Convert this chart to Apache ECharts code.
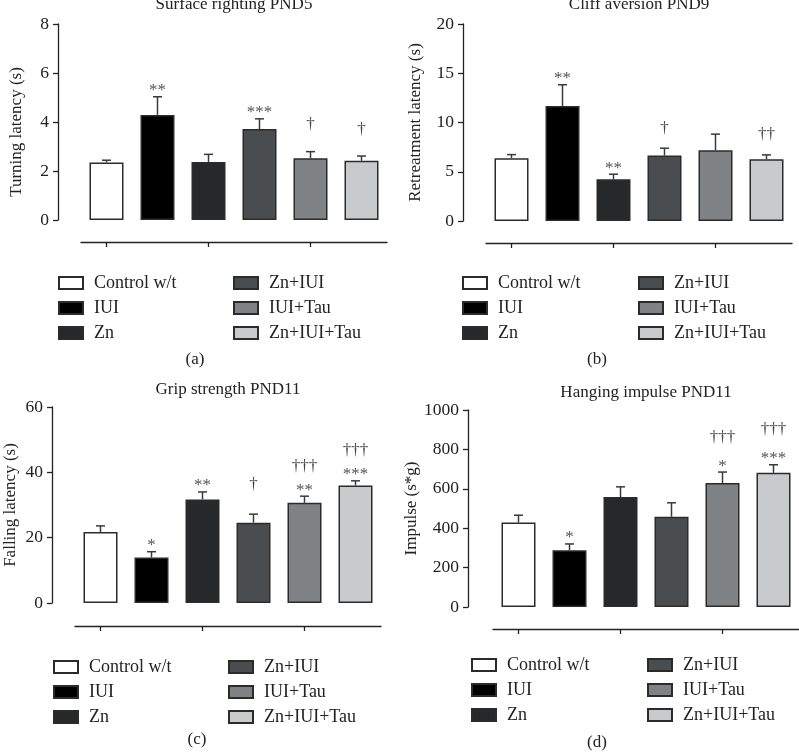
<!DOCTYPE html>
<html style="height: 100%">
<head>
<meta charset="utf-8">
<script src="https://cdn.jsdelivr.net/npm/echarts@6/dist/echarts.min.js"></script>
</head>
<body style="height: 100%; margin: 0; background: #fff">
<div id="container" style="width: 799px; height: 752px"></div>
<script type="text/javascript">
var groups = ['Control w/t', 'IUI', 'Zn', 'Zn+IUI', 'IUI+Tau', 'Zn+IUI+Tau'];
var colors = ['#ffffff', '#000000', '#27282a', '#4a4d50', '#808385', '#c9cacb'];

// (a) surface righting
var surfaceMean = [2.35, 4.29, 2.37, 3.71, 2.52, 2.42];
var surfaceErr = [2.44, 5.03, 2.68, 4.13, 2.79, 2.61];
var surfaceStars = ['', '**', '', '***', '', ''];
var surfaceDaggers = ['', '', '', '', '†', '†'];
// (b) cliff aversion
var cliffMean = [6.38, 11.67, 4.24, 6.64, 7.19, 6.27];
var cliffErr = [6.74, 13.83, 4.75, 7.39, 8.82, 6.71];
var cliffStars = ['', '**', '**', '', '', ''];
var cliffDaggers = ['', '', '', '†', '', '††'];
// (c) grip strength
var gripMean = [21.7, 13.9, 31.7, 24.6, 30.7, 36.0];
var gripErr = [23.6, 15.7, 34.0, 27.2, 32.7, 37.4];
var gripStars = ['', '*', '**', '', '**', '***'];
var gripDaggers = ['', '', '', '†', '†††', '†††'];
// (d) hanging impulse
var hangMean = [429, 288, 558, 458, 629, 681];
var hangErr = [466, 320, 610, 529, 685, 722];
var hangStars = ['', '*', '', '', '*', '***'];
var hangDaggers = ['', '', '', '', '†††', '†††'];

var FONT = 'Liberation Serif';
var INK = '#222';

var panels = [
    {title: 'Surface righting PND5', yName: 'Turning latency (s)', max: 8, interval: 2,
     mean: surfaceMean, err: surfaceErr, stars: surfaceStars, daggers: surfaceDaggers,
     grid: {left: 81, top: 24, width: 306, height: 196}, yOff: 23, xOff: 22, nameGap: 33, namePad: 20, dGap: 27,
     titleXY: [234, 5], cap: '(a)', capXY: [195, 360], legL: [58, 233], legTop: 274},
    {title: 'Cliff aversion PND9', yName: 'Retreatment latency (s)', max: 20, interval: 5,
     mean: cliffMean, err: cliffErr, stars: cliffStars, daggers: cliffDaggers,
     grid: {left: 486, top: 24, width: 306, height: 197}, yOff: 23, xOff: 22, nameGap: 39, namePad: 0, dGap: 20,
     titleXY: [639, 5], cap: '(b)', capXY: [597, 360], legL: [462, 638], legTop: 274},
    {title: 'Grip strength PND11', yName: 'Falling latency (s)', max: 60, interval: 20,
     mean: gripMean, err: gripErr, stars: gripStars, daggers: gripDaggers,
     grid: {left: 75, top: 407, width: 306, height: 196}, yOff: 23, xOff: 23, nameGap: 33, namePad: 0, dGap: 30,
     titleXY: [228, 390], cap: '(c)', capXY: [197, 740], legL: [53, 228], legTop: 658},
    {title: 'Hanging impulse PND11', yName: 'Impulse (s*g)', max: 1000, interval: 200,
     mean: hangMean, err: hangErr, stars: hangStars, daggers: hangDaggers,
     grid: {left: 493, top: 410, width: 306, height: 197}, yOff: 25, xOff: 22, nameGap: 44, namePad: 0, dGap: 35,
     titleXY: [646, 393], cap: '(d)', capXY: [597, 743], legL: [471, 647], legTop: 656}
];

var grids = [], xAxes = [], yAxes = [], series = [], legends = [], graphics = [];

function errorSeries(p, idx) {
    return {
        type: 'custom',
        xAxisIndex: idx,
        yAxisIndex: idx,
        z: 5,
        silent: true,
        data: p.mean.map(function (m, i) { return [i, m, p.err[i]]; }),
        renderItem: function (params, api) {
            var i = api.value(0);
            var p0 = api.coord([i, api.value(1)]);
            var p1 = api.coord([i, api.value(2)]);
            var kids = [
                {type: 'line', shape: {x1: p0[0], y1: p0[1], x2: p1[0], y2: p1[1]},
                 style: {stroke: '#3a3a3a', lineWidth: 1.5}},
                {type: 'line', shape: {x1: p1[0] - 4.5, y1: p1[1], x2: p1[0] + 4.5, y2: p1[1]},
                 style: {stroke: '#3a3a3a', lineWidth: 1.5}}
            ];
            if (p.stars[i]) {
                kids.push({type: 'text', x: p1[0], y: p1[1] - 6,
                    style: {text: p.stars[i], align: 'center', verticalAlign: 'middle',
                            fontFamily: FONT, fontSize: 17, fill: '#555'}});
            }
            if (p.daggers[i]) {
                kids.push({type: 'text', x: p1[0], y: p1[1] - p.dGap,
                    style: {text: p.daggers[i], align: 'center', verticalAlign: 'middle',
                            fontFamily: FONT, fontSize: 17, fill: '#444'}});
            }
            return {type: 'group', children: kids};
        }
    };
}

panels.forEach(function (p, idx) {
    grids.push(Object.assign({outerBoundsMode: 'none', containLabel: false}, p.grid));
    xAxes.push({
        gridIndex: idx, type: 'category', data: groups, offset: p.xOff, position: 'bottom',
        axisLine: {show: true, onZero: false, lineStyle: {color: INK, width: 1.3}},
        axisTick: {show: true, alignWithLabel: true, length: 5, lineStyle: {color: INK, width: 1.3}},
        axisLabel: {show: false}, splitLine: {show: false}
    });
    yAxes.push({
        gridIndex: idx, type: 'value', min: 0, max: p.max, interval: p.interval, offset: p.yOff,
        name: p.yName, nameLocation: 'middle', nameGap: p.nameGap,
        nameTextStyle: {fontFamily: FONT, fontSize: 17, color: INK, padding: [0, p.namePad, 0, 0]},
        axisLine: {show: true, lineStyle: {color: INK, width: 1.3}},
        axisTick: {show: true, length: 5, lineStyle: {color: INK, width: 1.3}},
        axisLabel: {fontFamily: FONT, fontSize: 17.5, color: INK, margin: 9,
                    formatter: function (v) { return String(v); }},
        splitLine: {show: false}
    });
    groups.forEach(function (g, gi) {
        series.push({
            type: 'bar', name: g, xAxisIndex: idx, yAxisIndex: idx,
            barWidth: 34, barGap: '-100%', silent: true,
            data: p.mean.map(function (v, i) { return i === gi ? v : '-'; }),
            itemStyle: {color: colors[gi], borderColor: '#2b2b2b', borderWidth: 1.5}
        });
    });
    series.push(errorSeries(p, idx));
    [0, 1].forEach(function (c) {
        legends.push({
            orient: 'vertical', left: p.legL[c], top: p.legTop, padding: 0, selectedMode: false,
            data: groups.slice(c * 3, c * 3 + 3), icon: 'rect',
            itemWidth: 24, itemHeight: 12, itemGap: 7,
            textStyle: {fontFamily: FONT, fontSize: 18, color: INK, lineHeight: 16, padding: [0, 0, 0, 6]}
        });
    });
    graphics.push({type: 'text', x: p.titleXY[0], y: p.titleXY[1],
        style: {text: p.title, align: 'center', verticalAlign: 'middle', textAlign: 'center', textVerticalAlign: 'middle',
                fontFamily: FONT, fontSize: 17, fill: INK}});
    graphics.push({type: 'text', x: p.capXY[0], y: p.capXY[1],
        style: {text: p.cap, align: 'center', verticalAlign: 'middle', textAlign: 'center', textVerticalAlign: 'middle',
                fontFamily: FONT, fontSize: 17, fill: INK}});
});

var myChart = echarts.init(document.getElementById('container'));
var option = {
    animation: false,
    backgroundColor: '#ffffff',
    grid: grids,
    xAxis: xAxes,
    yAxis: yAxes,
    legend: legends,
    graphic: graphics,
    series: series
};
myChart.setOption(option, true);
</script>
</body>
</html>
